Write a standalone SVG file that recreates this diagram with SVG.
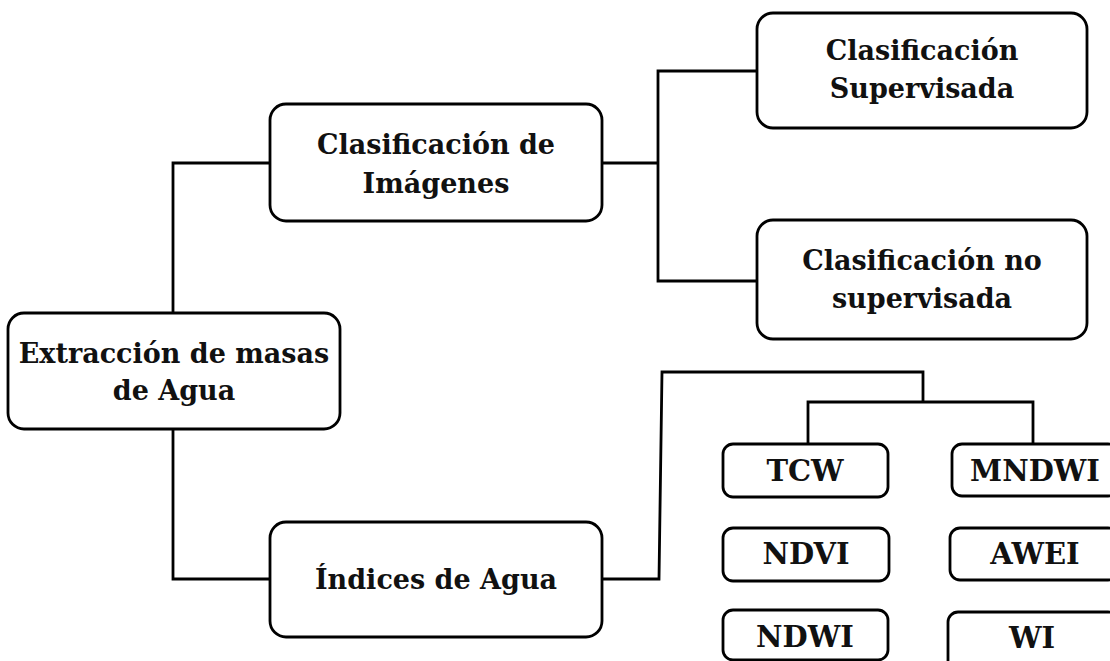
<svg xmlns="http://www.w3.org/2000/svg" width="1110" height="661" viewBox="0 0 1110 661">
<style>
.box{fill:#fff;stroke:#000;stroke-width:2.8}
.t{font-family:"DejaVu Serif","Liberation Serif",serif;font-weight:bold;font-size:27px;fill:#111;text-anchor:middle}
.s{font-size:29px}
.c{fill:none;stroke:#000;stroke-width:2.8;stroke-linejoin:miter}
</style>
<rect width="1110" height="661" fill="#fff"/>
<g id="connectors">
<path class="c" d="M270,163 H173 V313"/>
<path class="c" d="M173,429 V579 H270"/>
<path class="c" d="M602,163 H658"/>
<path class="c" d="M757,71 H658 V281 H757"/>
<path class="c" d="M602,579 H659 L662,372 H923 V402"/>
<path class="c" d="M808,444 V402 H1033 V444"/>
</g>
<g id="extraccion">
<rect class="box" x="8" y="313" width="332" height="116" rx="16"/>
<text class="t" x="174" y="363">Extracción de masas</text>
<text class="t" x="174" y="400">de Agua</text>
</g>
<g id="clasif-imagenes">
<rect class="box" x="270" y="104" width="332" height="117" rx="16"/>
<text class="t" x="436" y="154">Clasificación de</text>
<text class="t" x="436" y="193">Imágenes</text>
</g>
<g id="indices">
<rect class="box" x="270" y="522" width="332" height="115" rx="16"/>
<text class="t" x="436" y="589">Índices de Agua</text>
</g>
<g id="supervisada">
<rect class="box" x="757" y="13" width="330" height="115" rx="16"/>
<text class="t" x="922" y="60">Clasificación</text>
<text class="t" x="922" y="98">Supervisada</text>
</g>
<g id="no-supervisada">
<rect class="box" x="757" y="220" width="330" height="119" rx="16"/>
<text class="t" x="922" y="270">Clasificación no</text>
<text class="t" x="922" y="308">supervisada</text>
</g>
<g id="tcw">
<rect class="box" x="723" y="444" width="165" height="53" rx="10"/>
<text class="t s" x="805" y="481">TCW</text>
</g>
<g id="mndwi">
<rect class="box" x="952" y="444" width="166" height="52" rx="10"/>
<text class="t s" x="1035" y="481">MNDWI</text>
</g>
<g id="ndvi">
<rect class="box" x="723" y="528" width="166" height="53" rx="10"/>
<text class="t s" x="806" y="564">NDVI</text>
</g>
<g id="awei">
<rect class="box" x="950" y="528" width="168" height="52" rx="10"/>
<text class="t s" x="1035" y="564">AWEI</text>
</g>
<g id="ndwi">
<rect class="box" x="723" y="610" width="165" height="50" rx="10"/>
<text class="t s" x="805" y="647">NDWI</text>
</g>
<g id="wi">
<rect class="box" x="948" y="612" width="170" height="60" rx="10"/>
<text class="t s" x="1032" y="648">WI</text>
</g>
</svg>
